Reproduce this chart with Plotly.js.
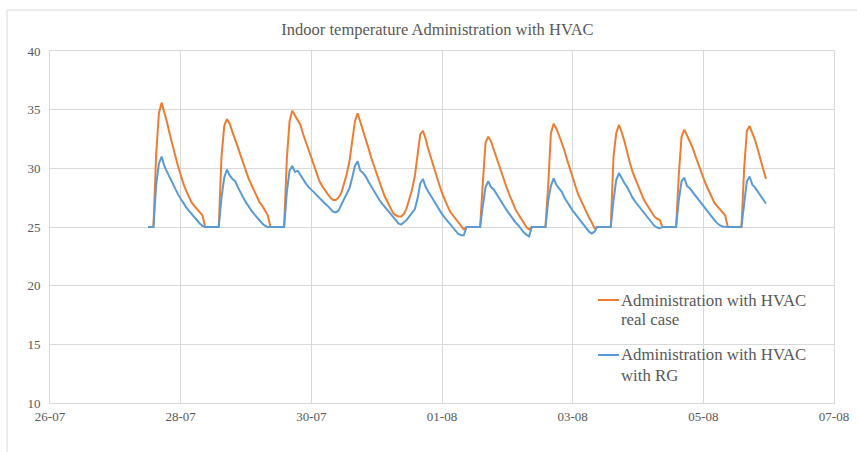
<!DOCTYPE html>
<html>
<head>
<meta charset="utf-8">
<script src="https://cdn.plot.ly/plotly-3.0.1.min.js"></script>
<style>
  html, body { margin: 0; padding: 0; background: #ffffff; }
  #chart { width: 857px; height: 452px; }
</style>
</head>
<body>
<div id="chart"></div>
<script>
// Hourly indoor temperatures (°C), first sample 27-07 12:00, one row per day.
const firstSample = Date.UTC(2019, 6, 27, 12);
const stepMs = 3600 * 1000;

const realCase = [
  25.0, 25.0, 25.0, 31.2, 34.7, 35.6, 34.8, 33.9, 32.9, 31.9, 31.1, 30.2,
  29.4, 28.7, 28.1, 27.6, 27.1, 26.8, 26.5, 26.3, 26.0, 25.0, 25.0, 25.0, 25.0, 25.0, 25.0, 31.0, 33.6, 34.2, 33.8, 33.1, 32.5, 31.8, 31.1, 30.4,
  29.7, 29.1, 28.6, 28.1, 27.6, 27.1, 26.8, 26.4, 26.0, 25.0, 25.0, 25.0, 25.0, 25.0, 25.0, 30.8, 34.0, 34.9, 34.5, 34.2, 33.7, 32.9, 32.2, 31.5,
  30.8, 30.1, 29.4, 28.9, 28.5, 28.1, 27.8, 27.5, 27.3, 27.3, 27.5, 27.9, 28.6, 29.5, 30.6, 32.3, 34.0, 34.7, 34.0, 33.1, 32.4, 31.7, 30.9, 30.2,
  29.5, 28.9, 28.2, 27.6, 27.1, 26.6, 26.2, 26.0, 25.9, 25.9, 26.1, 26.6, 27.3, 28.2, 29.3, 31.3, 32.9, 33.2, 32.5, 31.6, 30.8, 30.1, 29.3, 28.6,
  27.9, 27.3, 26.8, 26.3, 26.0, 25.7, 25.4, 25.0, 24.8, 25.0, 25.0, 25.0, 25.0, 25.0, 25.0, 28.8, 32.2, 32.7, 32.3, 31.6, 30.9, 30.2, 29.5, 28.9,
  28.2, 27.6, 27.0, 26.5, 26.1, 25.7, 25.4, 25.0, 24.8, 25.0, 25.0, 25.0, 25.0, 25.0, 25.0, 28.5, 33.0, 33.8, 33.4, 32.8, 32.2, 31.5, 30.7, 29.9,
  29.2, 28.5, 27.8, 27.3, 26.7, 26.2, 25.8, 25.4, 24.9, 25.0, 25.0, 25.0, 25.0, 25.0, 25.0, 31.0, 33.0, 33.7, 33.1, 32.3, 31.3, 30.5, 29.7, 29.1,
  28.5, 28.0, 27.4, 27.0, 26.6, 26.2, 25.9, 25.7, 25.6, 25.0, 25.0, 25.0, 25.0, 25.0, 25.0, 29.5, 32.7, 33.3, 32.8, 32.3, 31.8, 31.1, 30.4, 29.8,
  29.2, 28.6, 28.1, 27.6, 27.1, 26.8, 26.5, 26.2, 26.0, 25.0, 25.0, 25.0, 25.0, 25.0, 25.0, 30.0, 33.2, 33.6, 33.0, 32.4, 31.6, 30.8, 30.0, 29.1
];

const withRG = [
  25.0, 25.0, 25.0, 28.6, 30.4, 31.0, 30.2, 29.7, 29.2, 28.7, 28.2, 27.8,
  27.4, 27.0, 26.7, 26.4, 26.1, 25.8, 25.5, 25.3, 25.1, 25.0, 25.0, 25.0, 25.0, 25.0, 25.0, 27.5, 29.2, 29.9, 29.4, 29.1, 28.9, 28.4, 27.9, 27.5,
  27.1, 26.7, 26.4, 26.1, 25.8, 25.5, 25.3, 25.1, 25.0, 25.0, 25.0, 25.0, 25.0, 25.0, 25.0, 28.0, 29.8, 30.2, 29.7, 29.8, 29.4, 29.0, 28.7, 28.4,
  28.2, 27.95, 27.7, 27.45, 27.2, 27.0, 26.8, 26.55, 26.3, 26.25, 26.4, 26.9, 27.35, 27.8, 28.3, 29.2, 30.2, 30.6, 29.8, 29.6, 29.3, 28.85, 28.45, 28.1,
  27.7, 27.3, 27.0, 26.7, 26.4, 26.1, 25.8, 25.5, 25.3, 25.2, 25.4, 25.6, 25.9, 26.2, 26.5, 27.4, 28.7, 29.1, 28.4, 28.0, 27.6, 27.2, 26.8, 26.5,
  26.1, 25.8, 25.5, 25.2, 24.9, 24.65, 24.4, 24.3, 24.3, 25.0, 25.0, 25.0, 25.0, 25.0, 25.0, 26.8, 28.4, 28.9, 28.4, 28.2, 27.8, 27.4, 27.1, 26.7,
  26.35, 26.0, 25.7, 25.4, 25.15, 24.8, 24.55, 24.35, 24.2, 25.0, 25.0, 25.0, 25.0, 25.0, 25.0, 27.2, 28.5, 29.15, 28.6, 28.3, 28.0, 27.5, 27.1, 26.75,
  26.4, 26.1, 25.8, 25.5, 25.2, 24.9, 24.6, 24.45, 24.6, 25.0, 25.0, 25.0, 25.0, 25.0, 25.0, 27.3, 29.0, 29.6, 29.1, 28.75, 28.4, 27.9, 27.5, 27.15,
  26.85, 26.55, 26.3, 26.0, 25.65, 25.35, 25.1, 24.95, 24.9, 25.0, 25.0, 25.0, 25.0, 25.0, 25.0, 27.3, 28.9, 29.2, 28.5, 28.3, 28.0, 27.65, 27.3, 27.0,
  26.7, 26.4, 26.1, 25.8, 25.6, 25.35, 25.15, 25.05, 25.0, 25.0, 25.0, 25.0, 25.0, 25.0, 25.0, 27.0, 28.9, 29.3, 28.6, 28.35, 28.0, 27.7, 27.35, 27.0
];

const tickDates  = ['2019-07-26', '2019-07-28', '2019-07-30', '2019-08-01', '2019-08-03', '2019-08-05', '2019-08-07'];
const tickLabels = ['26-07', '28-07', '30-07', '01-08', '03-08', '05-08', '07-08'];
const seriesNames = [['Administration with HVAC', 'real case'], ['Administration with HVAC', 'with RG']];
const seriesColors = ['#ED7D31', '#5B9BD5'];

function stamp(ms) {
  const d = new Date(ms);
  const p = n => String(n).padStart(2, '0');
  return d.getUTCFullYear() + '-' + p(d.getUTCMonth() + 1) + '-' + p(d.getUTCDate()) +
         ' ' + p(d.getUTCHours()) + ':' + p(d.getUTCMinutes());
}
const times = realCase.map((_, i) => stamp(firstSample + i * stepMs));

const serif = 'Liberation Serif, Times New Roman, serif';
const grey = '#595959';
const gridGrey = '#d9d9d9';

const traces = [realCase, withRG].map((vals, k) => ({
  x: times, y: vals, name: seriesNames[k].join(' '), type: 'scatter', mode: 'lines',
  line: { color: seriesColors[k], width: 2 }, showlegend: false
}));

// Legend block inside the plot area: a short coloured line and two text rows per series.
const legendLeft = 0.7255, legendRows = [[0.2926, 0.2358], [0.1364, 0.0795]];
const legendAnnotations = [];
const legendShapes = [];
seriesNames.forEach((rows, k) => {
  rows.forEach((txt, r) => legendAnnotations.push({
    text: txt, xref: 'paper', yref: 'paper', x: legendLeft, y: legendRows[k][r],
    xanchor: 'left', yanchor: 'middle', showarrow: false, align: 'left',
    font: { family: serif, size: 16.8, color: grey }
  }));
  legendShapes.push({
    type: 'line', xref: 'paper', yref: 'paper', x0: 0.699, x1: 0.7258,
    y0: legendRows[k][0], y1: legendRows[k][0], line: { color: seriesColors[k], width: 2 }
  });
});

const layout = {
  width: 857, height: 452,
  margin: { l: 50, r: 23, t: 51, b: 49 },
  paper_bgcolor: '#ffffff', plot_bgcolor: '#ffffff',
  font: { family: serif, color: grey, size: 13 },
  title: { text: 'Indoor temperature Administration with HVAC', font: { family: serif, size: 16.5, color: grey },
           x: 0.5105, xref: 'container', y: 0.935, yref: 'container', xanchor: 'center', yanchor: 'middle' },
  xaxis: {
    type: 'date', range: ['2019-07-26', '2019-08-07'],
    tickmode: 'array', tickvals: tickDates, ticktext: tickLabels,
    showgrid: true, gridcolor: gridGrey, gridwidth: 1,
    showline: true, linecolor: gridGrey, linewidth: 1, mirror: true,
    zeroline: false, ticks: '', ticklabelstandoff: 1,
    tickfont: { family: serif, size: 13, color: grey }
  },
  yaxis: {
    range: [10, 40], dtick: 5, tick0: 10,
    showgrid: true, gridcolor: gridGrey, gridwidth: 1,
    showline: true, linecolor: gridGrey, linewidth: 1, mirror: true,
    zeroline: false, ticks: '', ticklabelstandoff: 6,
    tickfont: { family: serif, size: 13, color: grey }
  },
  showlegend: false,
  annotations: legendAnnotations,
  shapes: [
    { type: 'line', xref: 'paper', yref: 'paper', x0: -0.0548, x1: 1.03, y0: 1.1165, y1: 1.1165,
      line: { color: gridGrey, width: 1 } },
    { type: 'line', xref: 'paper', yref: 'paper', x0: -0.0548, x1: -0.0548, y0: 1.1165, y1: -0.14,
      line: { color: gridGrey, width: 1 } }
  ].concat(legendShapes)
};

Plotly.newPlot('chart', traces, layout, { staticPlot: true, displayModeBar: false });
</script>
</body>
</html>
